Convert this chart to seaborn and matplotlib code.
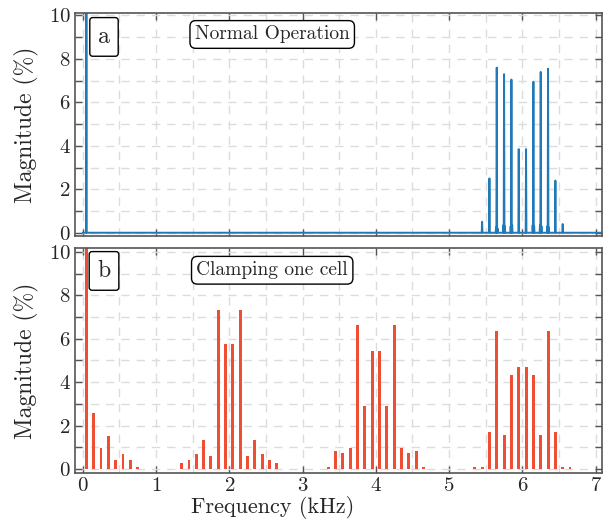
import warnings
warnings.filterwarnings("ignore")
import numpy as np
import pandas as pd
import matplotlib
matplotlib.use("Agg")
import matplotlib.pyplot as plt
from matplotlib.ticker import MultipleLocator
import seaborn as sns

# normal operation spectrum (kHz, % of fundamental)
fund_freq = 0.05
fund_mag = 100.0
normal_freqs = [5.45, 5.55, 5.65, 5.75, 5.85, 5.95, 6.05, 6.15, 6.25, 6.35, 6.45, 6.55]
normal_mags = [0.5, 2.5, 7.6, 7.3, 7.05, 3.85, 3.85, 6.95, 7.4, 7.55, 2.4, 0.4]
leak_freqs = [5.64, 5.66, 5.74, 5.76, 5.84, 5.86, 6.14, 6.16, 6.24, 6.26, 6.34, 6.36]
leak_mags = [0.25, 0.2, 0.35, 0.3, 0.3, 0.35, 0.35, 0.3, 0.35, 0.3, 0.3, 0.25]

# one cell clamped
clamp_freqs = [0.05, 0.15, 0.25, 0.35, 0.45, 0.55, 0.65, 0.75,
               1.35, 1.45, 1.55, 1.65, 1.75, 1.85, 1.95, 2.05, 2.15, 2.25, 2.35, 2.45, 2.55, 2.65,
               3.35, 3.45, 3.55, 3.65, 3.75, 3.85, 3.95, 4.05, 4.15, 4.25, 4.35, 4.45, 4.55, 4.65,
               5.35, 5.45, 5.55, 5.65, 5.75, 5.85, 5.95, 6.05, 6.15, 6.25, 6.35, 6.45, 6.55, 6.65]
clamp_mags = [100.0, 2.57, 0.95, 1.54, 0.42, 0.71, 0.42, 0.11,
              0.29, 0.42, 0.71, 1.34, 0.6, 7.35, 5.75, 5.75, 7.35, 0.6, 1.34, 0.71, 0.42, 0.29,
              0.11, 0.83, 0.72, 0.95, 6.65, 2.91, 5.46, 5.46, 2.91, 6.65, 0.95, 0.72, 0.83, 0.11,
              0.08, 0.08, 1.69, 6.35, 1.58, 4.35, 4.72, 4.72, 4.35, 1.58, 6.35, 1.69, 0.08, 0.1]

blue = "#2079b8"
red = "#f04e32"

sns.set_theme(style="ticks")
plt.rcParams["font.family"] = ["cmr10", "DejaVu Serif"]
plt.rcParams["mathtext.fontset"] = "cm"
plt.rcParams["axes.formatter.use_mathtext"] = True

# spectrum on a fine frequency grid
step = 0.005
grid = np.round(np.arange(0, 7.1, step), 4)
spec = np.zeros_like(grid)
for f, m in zip([fund_freq] + normal_freqs + leak_freqs, [fund_mag] + normal_mags + leak_mags):
    spec[np.argmin(np.abs(grid - f))] = m
df_top = pd.DataFrame({"freq": grid, "mag": spec})
df_bot = pd.DataFrame({"freq": np.round(clamp_freqs, 2), "mag": clamp_mags})

fig = plt.figure(figsize=(6.03, 5.22), dpi=100)
ax1 = fig.add_axes([0.1244, 0.5479, 0.8744, 0.4266])
ax2 = fig.add_axes([0.1244, 0.0933, 0.8744, 0.4322])

sns.lineplot(data=df_top, x="freq", y="mag", ax=ax1, color=blue, lw=1.4)
sns.barplot(data=df_bot, x="freq", y="mag", ax=ax2, native_scale=True, orient="x",
            color=red, saturation=1, width=0.4, errorbar=None, linewidth=0)

ax1.set_ylim(-0.15, 10.1)
ax2.set_ylim(-0.2, 10.2)
for ax in (ax1, ax2):
    ax.set_xlim(-0.105, 7.09)
    ax.xaxis.set_major_locator(MultipleLocator(1))
    ax.xaxis.set_minor_locator(MultipleLocator(0.5))
    ax.yaxis.set_major_locator(MultipleLocator(2))
    ax.yaxis.set_minor_locator(MultipleLocator(1))
    ax.grid(which="both", ls=(0, (6, 5)), color="#dcdcdc", lw=1)
    ax.set_axisbelow(True)
    ax.tick_params(which="both", direction="in", top=True, right=True, color="#555555",
                   labelsize=15, pad=3, width=1)
    ax.tick_params(axis="y", which="both", length=5)
    ax.tick_params(axis="x", which="major", length=5)
    ax.tick_params(axis="x", which="minor", length=0)
    for s in ax.spines.values():
        s.set_color("#555555")
        s.set_linewidth(1.2)
    ax.set_ylabel("Magnitude (%)", fontsize=17, labelpad=7)

ax1.set_xlabel("")
ax1.tick_params(axis="x", labelbottom=False)
ax2.set_xlabel("Frequency (kHz)", fontsize=16)
ax2.xaxis.set_label_coords(0.374, -0.1)

small = dict(boxstyle="round,pad=0.35,rounding_size=0.12", fc="white", ec="black", lw=1)
big = dict(boxstyle="round,pad=0.25,rounding_size=0.3", fc="white", ec="black", lw=1)
ax1.text(0.055, 0.894, "a", transform=ax1.transAxes, ha="center", va="center", fontsize=17, bbox=small)
ax1.text(0.374, 0.905, "Normal Operation", transform=ax1.transAxes, ha="center", va="center",
         fontsize=14, bbox=big)
ax2.text(0.055, 0.897, "b", transform=ax2.transAxes, ha="center", va="center", fontsize=17, bbox=small)
ax2.text(0.374, 0.9, "Clamping one cell", transform=ax2.transAxes, ha="center", va="center",
         fontsize=14, bbox=big)

fig.savefig("out.png", dpi=100)
